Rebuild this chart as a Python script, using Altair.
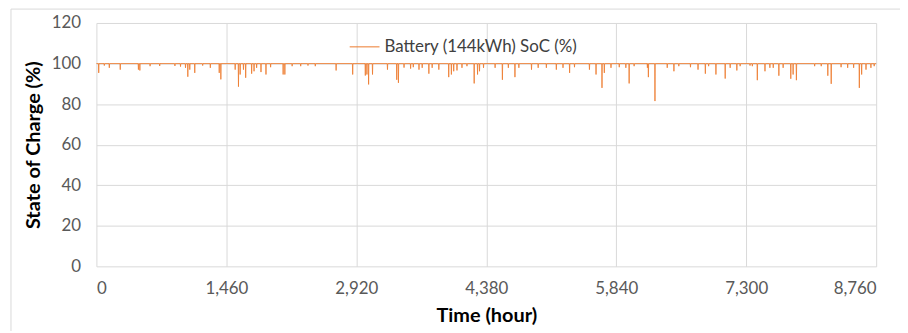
import altair as alt
import pandas as pd

# Dips of the battery state of charge (hour, SoC %); elsewhere it sits at 100 %
dip_hours = [26, 89, 145, 268, 472, 488, 603, 711, 882, 945, 1001, 1027, 1049, 1105, 1194,
             1280, 1380, 1398, 1559, 1596, 1615, 1652, 1677, 1744, 1771, 1800, 1849, 1905,
             1957, 2098, 2117, 2199, 2295, 2377, 2459, 2693, 2879, 3021,
             3039, 3058, 3102, 3270, 3374, 3393, 3456, 3530, 3560, 3624, 3660, 3735, 3772,
             3847, 3958, 3988, 4014, 4051, 4107, 4163, 4244, 4282, 4304, 4349, 4479, 4561,
             4628, 4702, 4746, 4888, 4963, 5055, 5167, 5242, 5316, 5371, 5539, 5613, 5680,
             5706, 5781, 5874, 5948,
             5985, 6041, 6190, 6201, 6275, 6413, 6488, 6543, 6674, 6759, 6841, 6878, 6960,
             7064, 7120, 7195, 7232, 7343, 7369, 7425, 7511, 7566, 7604, 7667, 7715, 7801,
             7827, 7864, 8069, 8143, 8217, 8255, 8366, 8440, 8507, 8571, 8597, 8646, 8701, 8738]
dip_values = [95.4, 99.0, 97.9, 97.0, 97.0, 96.6, 98.7, 98.8, 98.8, 98.5, 97.9, 93.5, 97.0, 95.4, 99.0,
              97.9, 95.4, 92.2, 97.0, 88.6, 94.6, 97.0, 93.0, 95.0, 96.2, 97.9, 95.8, 94.6,
              98.2, 94.6, 94.6, 98.7, 98.7, 99.0, 98.7, 96.6, 94.6, 94.1,
              94.6, 89.7, 94.6, 97.0, 92.0, 90.5, 98.0, 97.5, 98.2, 97.0, 97.9, 95.0, 97.9,
              97.0, 93.3, 94.6, 96.2, 96.6, 97.9, 98.7, 90.2, 94.6, 96.2, 97.9, 97.9, 92.0,
              97.9, 93.3, 97.9, 97.0, 97.9, 97.9, 97.0, 97.9, 95.4, 98.2, 97.0, 94.6, 88.0,
              95.4, 97.9, 98.2, 97.9,
              90.2, 98.7, 97.9, 93.3, 81.5, 97.9, 96.2, 98.7, 98.2, 97.0, 95.0, 98.7, 94.6,
              92.6, 97.9, 96.6, 98.7, 99.0, 98.7, 91.8, 96.2, 97.9, 97.9, 94.0, 97.9, 92.5,
              94.6, 91.8, 98.7, 98.7, 94.0, 90.0, 98.2, 97.9, 97.9, 88.0, 94.6, 97.0, 97.9, 98.7]
full_soc = 100.0
x_ticks = [0, 1460, 2920, 4380, 5840, 7300, 8760]
y_ticks = [0, 20, 40, 60, 80, 100, 120]
series_name = "Battery (144kWh) SoC (%)"

rows = [(0, full_soc)]
for h, v in zip(dip_hours, dip_values):
    rows.append((max(h - 3, 0), full_soc))
    rows.append((h, v))
    rows.append((min(h + 3, 8760), full_soc))
rows.append((8760, full_soc))
df = pd.DataFrame(rows, columns=["hour", "soc"])
df["series"] = series_name

FONT = "Lato"
W, H = 785, 245

line = alt.Chart(df).mark_line(strokeWidth=1.0, opacity=0.85, interpolate="linear").encode(
    x=alt.X("hour:Q", scale=alt.Scale(domain=[0, 8760], nice=False),
            axis=alt.Axis(values=x_ticks, format=",d", title="Time (hour)",
                          labelPadding=14, titlePadding=10)),
    y=alt.Y("soc:Q", scale=alt.Scale(domain=[0, 120], nice=False),
            axis=alt.Axis(values=y_ticks, title="State of Charge (%)",
                          labelPadding=16, titlePadding=8)),
    color=alt.Color("series:N", scale=alt.Scale(range=["#ED7D31"]),
                    legend=alt.Legend(title=None, orient="none", legendX=254, legendY=8,
                                      symbolType="stroke", symbolSize=900,
                                      symbolStrokeWidth=1.2, labelFontSize=17,
                                      labelLimit=400,
                                      labelFont=FONT, labelColor="#404040")),
    order="hour:Q",
)

frame = alt.Chart(pd.DataFrame({"a": [0]})).mark_rect(
    fill=None, stroke="#d9d9d9", strokeWidth=1, clip=False
).encode(x=alt.value(-86), x2=alt.value(W + 40), y=alt.value(-14), y2=alt.value(H + 80))

chart = alt.layer(frame, line).properties(
    width=W, height=H,
    autosize=alt.AutoSizeParams(type="none"),
    padding={"left": 89, "top": 14, "right": 24, "bottom": 64},
).configure_view(stroke=None).configure_axis(
    grid=True, gridColor="#d9d9d9", domain=False, ticks=False,
    labelFont=FONT, labelFontSize=17, labelColor="#595959",
    titleFont=FONT, titleFontSize=20, titleFontWeight="bold", titleColor="#000000",
)

chart.save("out.html", embed_options={"renderer": "svg", "actions": False})
